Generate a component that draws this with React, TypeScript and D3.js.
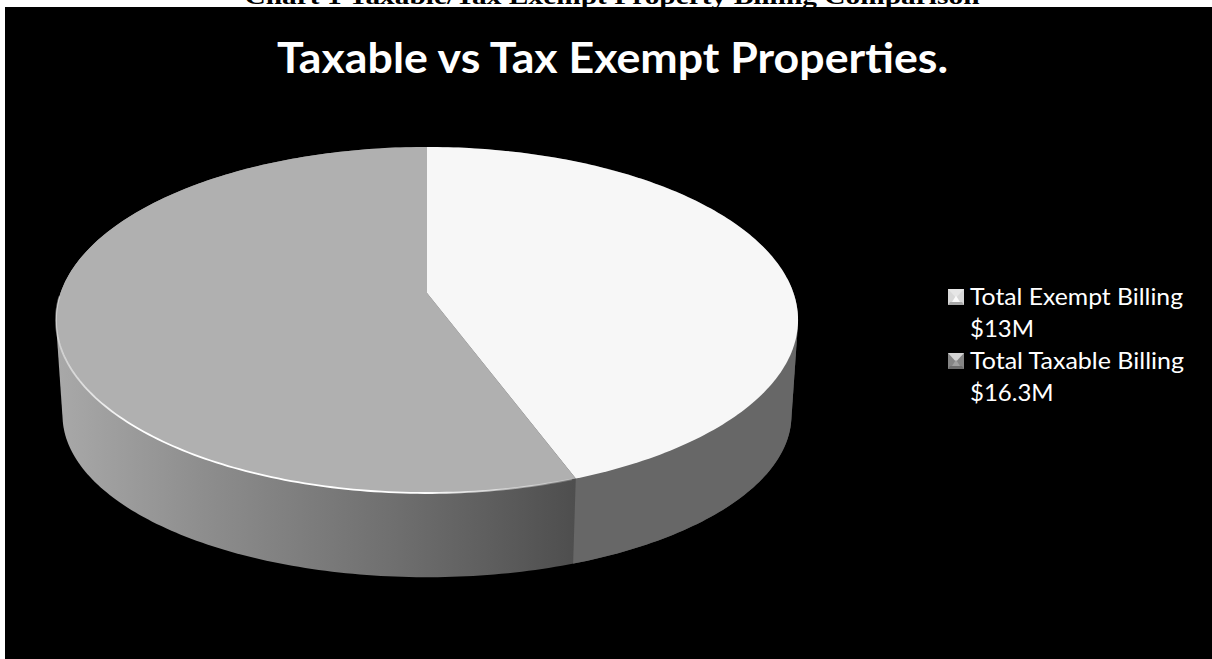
import React from "react";
import * as d3 from "d3";

const captionText = "Chart 1 Taxable/Tax Exempt Property Billing Comparison";
const titleText = "Taxable vs Tax Exempt Properties.";
const categories = ["Total Exempt Billing", "Total Taxable Billing"];
const valueLabels = ["$13M", "$16.3M"];
const billingMillions = [13, 16.3];
const topColors = ["#f7f7f7", "#b0b0b0"];
// Bevel facets of each legend key: centre, upper, side, lower.
const swatchFacets = [
  ["#fafafa", "#e6e6e6", "#d8d8d8", "#a8a8a8"],
  ["#a0a0a0", "#d4d4d4", "#858585", "#6e6e6e"],
];

const WIDTH = 1212;
const HEIGHT = 659;
const FONT = "Lato, Carlito, 'Open Sans', sans-serif";

// Perspective mapping of a disc: v runs towards the viewer, u to the right.
const CX = 427;
const PERSPECTIVE = 0.156;
const top = { y0: 293, a: 168.8, b: 366.5 };
const base = { y0: 390, a: 158, b: 360 };
type Disc = typeof top;
type Pt = [number, number];

const project = (d: Disc, angle: number): Pt => {
  const u = Math.sin(angle);
  const v = -Math.cos(angle);
  const w = 1 - PERSPECTIVE * v;
  return [CX + (d.b * u) / w, d.y0 + (d.a * v) / w];
};

const arcPoints = (d: Disc, a0: number, a1: number): Pt[] => {
  const steps = Math.max(2, Math.ceil(Math.abs(a1 - a0) * 60));
  return d3.range(steps + 1).map((i) => project(d, a0 + ((a1 - a0) * i) / steps));
};

const line = d3.line();
const pie = d3.pie<number>().sort(null)(billingMillions);
const [exempt, taxable] = pie;

const outline = d3.polygonHull([
  ...arcPoints(top, 0, 2 * Math.PI),
  ...arcPoints(base, 0, 2 * Math.PI),
]) as Pt[];

const sideShade = d3
  .scaleLinear<string>()
  .domain([60, 200, 400, 575])
  .range(["#a8a8a8", "#8e8e8e", "#6e6e6e", "#4e4e4e"]);
const gradientStops = [60, 130, 200, 300, 400, 490, 575];

// A small pyramid-style key: four facets around a flat centre.
function Swatch({ x, y, size, facets }: { x: number; y: number; size: number; facets: string[] }) {
  const [centre, upper, side, lower] = facets;
  const inset = size * 0.42;
  const r = x + size;
  const b = y + size;
  const mid = x + size / 2;
  return (
    <g>
      <rect x={x} y={y} width={size} height={size} fill={side} />
      <path d={line([[x, y], [r, y], [mid, y + inset + 2]]) + "Z"} fill={upper} />
      <path d={line([[x, b], [r, b], [r - 2, b - 3], [x + 2, b - 3]]) + "Z"} fill={lower} />
      <path d={line([[mid, y + inset], [r - 4, b - 3], [x + 4, b - 3]]) + "Z"} fill={centre} />
    </g>
  );
}

export default function App() {
  const boundary = exempt.endAngle;
  const edgeTop = project(top, boundary);
  const edgeBase = project(base, boundary);
  // Everything right of the slice boundary, trimmed to the cylinder outline.
  const exemptSide: Pt[] = [
    edgeTop,
    edgeBase,
    [edgeBase[0], HEIGHT],
    [WIDTH, HEIGHT],
    [WIDTH, edgeTop[1] - 200],
    [edgeTop[0], edgeTop[1] - 200],
  ];
  return (
    <svg
      width={WIDTH}
      height={HEIGHT}
      viewBox={`0 0 ${WIDTH} ${HEIGHT}`}
      style={{ position: "absolute", left: 0, top: 0, background: "#fff" }}
    >
      <defs>
        <clipPath id="wall">
          <path d={line(outline) + "Z"} />
        </clipPath>
        <linearGradient id="sideTaxable" gradientUnits="userSpaceOnUse" x1={60} x2={575} y1={0} y2={0}>
          {gradientStops.map((x) => (
            <stop key={x} offset={(x - 60) / 515} stopColor={sideShade(x)} />
          ))}
        </linearGradient>
        <linearGradient id="rim" gradientUnits="userSpaceOnUse" x1={56} x2={576} y1={0} y2={0}>
          <stop offset="0" stopColor="#ffffff" stopOpacity={0.4} />
          <stop offset="0.15" stopColor="#ffffff" stopOpacity={1} />
          <stop offset="0.7" stopColor="#ffffff" stopOpacity={1} />
          <stop offset="1" stopColor="#ffffff" stopOpacity={0.2} />
        </linearGradient>
        <filter id="soft" x="-5%" y="-5%" width="110%" height="110%">
          <feGaussianBlur stdDeviation="0.7" />
        </filter>
      </defs>

      <text
        x={612}
        y={4}
        textAnchor="middle"
        fontFamily="'Liberation Serif', serif"
        fontWeight="bold"
        fontSize={23}
        textLength={735}
        lengthAdjust="spacingAndGlyphs"
        fill="#000"
      >
        {captionText}
      </text>
      <rect x={5} y={7} width={WIDTH - 5} height={HEIGHT - 7} fill="#000" />

      <text
        x={612.5}
        y={73}
        textAnchor="middle"
        fontFamily={FONT}
        fontWeight="bold"
        fontSize={42.5}
        textLength={671}
        lengthAdjust="spacingAndGlyphs"
        fill="#fff"
      >
        {titleText}
      </text>

      {/* Cylinder wall: taxable wrap first, exempt wedge on top */}
      <path d={line(outline) + "Z"} fill="url(#sideTaxable)" />
      <path d={line(exemptSide) + "Z"} fill="#676767" clipPath="url(#wall)" />

      {/* Top surface slices */}
      {pie.map((s, i) => (
        <path
          key={categories[i]}
          d={line([[CX, top.y0], ...arcPoints(top, s.startAngle, s.endAngle)] as Pt[]) + "Z"}
          fill={topColors[i]}
        />
      ))}

      {/* Bevel highlight along the front rim */}
      <path
        d={line(arcPoints(top, taxable.startAngle + 0.01, 1.5 * Math.PI - 0.02)) as string}
        fill="none"
        stroke="url(#rim)"
        strokeWidth={1.8}
        filter="url(#soft)"
      />

      {categories.map((c, i) => {
        const y = [305, 369][i];
        return (
          <g key={c} fontFamily={FONT} fontSize={24} fill="#fff">
            <Swatch x={948} y={y - 16} size={16} facets={swatchFacets[i]} />
            <text x={970} y={y} textLength={i ? 214 : 213} lengthAdjust="spacingAndGlyphs">
              {c}
            </text>
            <text x={970} y={y + 32}>{valueLabels[i]}</text>
          </g>
        );
      })}
    </svg>
  );
}
